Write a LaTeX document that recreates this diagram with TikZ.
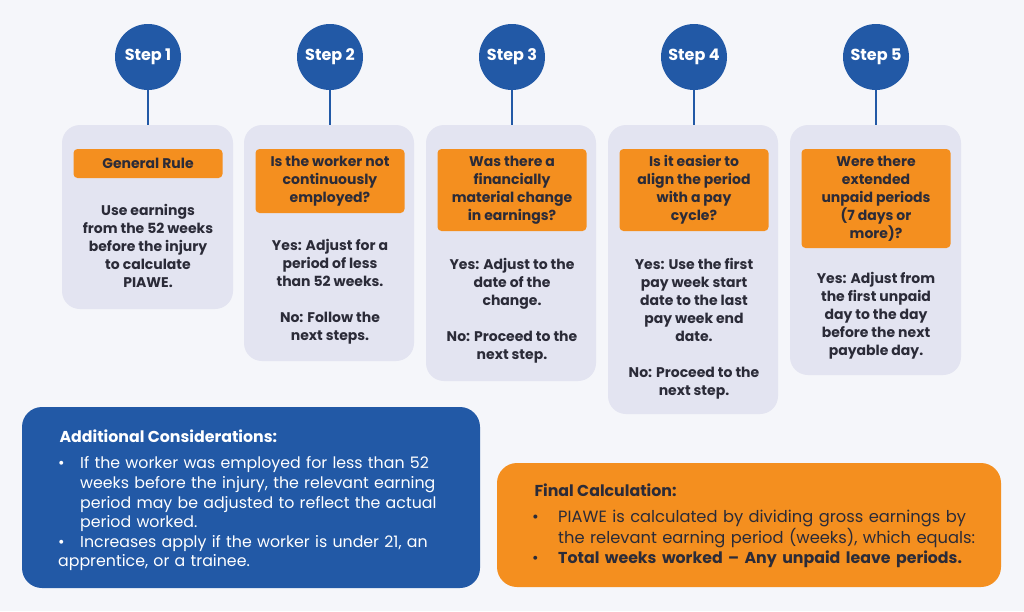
\documentclass[tikz,border=0pt]{standalone}
\usepackage{fontspec}
\setmainfont{Poppins}
\definecolor{bg}{HTML}{F5F6FA}
\definecolor{card}{HTML}{E3E4F1}
\definecolor{org}{HTML}{F48F1F}
\definecolor{blu}{HTML}{2259A6}
\definecolor{txt}{HTML}{2B2B38}
\newcommand{\bitem}[2]{\par\hangindent=#1\hangafter=1\noindent\makebox[#1][l]{•}#2}
\begin{document}
\begin{tikzpicture}[x=1pt,y=-1pt,
  stepc/.style={circle,fill=blu,minimum size=66pt,text=white,font=\fontsize{16}{18}\selectfont\bfseries},
  cardbox/.style={fill=card,rounded corners=18pt},
  hdr/.style={fill=org,rounded corners=4pt,text=txt,align=center,font=\fontsize{14}{18}\selectfont\bfseries,inner sep=0pt},
  body/.style={text=txt,align=center,font=\fontsize{14}{18}\selectfont\bfseries,anchor=north},
  conn/.style={draw=blu,line width=1.3pt}]
\fill[bg] (0,0) rectangle (1024,611);
\useasboundingbox (0,0) rectangle (1024,611);
% cards
\fill[cardbox] (62,125) rectangle (233,309);
\fill[cardbox] (244,125) rectangle (414,361);
\fill[cardbox] (426,125) rectangle (596,381);
\fill[cardbox] (608,125) rectangle (778,414);
\fill[cardbox] (790,125) rectangle (961,375);
\coordinate (t1) at (148,125);
\coordinate (t2) at (330,125);
\coordinate (t3) at (512,125);
\coordinate (t4) at (694,125);
\coordinate (t5) at (876,125);
\foreach \i/\x in {1/148,2/330,3/512,4/694,5/876}{
  \node[stepc] (s\i) at (\x,57) {Step \i};
  \draw[conn] (s\i.south) -- (t\i);
}
% headers
\node[hdr,minimum width=149pt,minimum height=29pt] (h1) at (148,163.5) {General Rule};
\node[hdr,minimum width=149pt,minimum height=64pt] (h2) at (330,181) {Is the worker not\\continuously\\employed?};
\node[hdr,minimum width=149pt,minimum height=82pt] (h3) at (512,190) {Was there a\\financially\\material change\\in earnings?};
\node[hdr,minimum width=149pt,minimum height=82pt] (h4) at (694,190) {Is it easier to\\align the period\\with a pay\\cycle?};
\node[hdr,minimum width=149pt,minimum height=99pt] (h5) at (876,198.5) {Were there\\extended\\unpaid periods\\(7 days or\\more)?};
% bodies
\node[body] (b1) at (148,201) {Use earnings\\from the 52 weeks\\before the injury\\to calculate\\PIAWE.};
\node[body] (b2) at (330,236) {Yes: Adjust for a\\period of less\\than 52 weeks.\\[18pt]No: Follow the\\next steps.};
\node[body] (b3) at (512,255) {Yes: Adjust to the\\date of the\\change.\\[18pt]No: Proceed to the\\next step.};
\node[body] (b4) at (694,255) {Yes: Use the first\\pay week start\\date to the last\\pay week end\\date.\\[18pt]No: Proceed to the\\next step.};
\node[body] (b5) at (876,269) {Yes: Adjust from\\the first unpaid\\day to the day\\before the next\\payable day.};
% additional
\fill[blu,rounded corners=20pt] (22,407) rectangle (480,588);
\node[text=white,anchor=west,font=\fontsize{15.8}{18}\selectfont\bfseries] (at) at (56,436) {Additional Considerations:};
\node[text=white,anchor=north west,inner sep=0pt,text width=420pt,font=\fontsize{15.8}{19.6}\selectfont] (al) at (58,449)
 {\bitem{22pt}{If the worker was employed for less than 52\newline weeks before the injury, the relevant earning\newline period may be adjusted to reflect the actual\newline period worked.}\bitem{22pt}{Increases apply if the worker is under 21, an\newline apprentice, or a trainee.}};
% final
\fill[org,rounded corners=20pt] (497,463) rectangle (1001,587);
\node[text=txt,anchor=west,font=\fontsize{15.8}{18}\selectfont\bfseries] (ft) at (531,490) {Final Calculation:};
\node[text=txt,anchor=north west,inner sep=0pt,text width=460pt,font=\fontsize{16.3}{19.6}\selectfont] (fl) at (532,503)
 {\bitem{26pt}{PIAWE is calculated by dividing gross earnings by\newline the relevant earning period (weeks), which equals:}\par\fontsize{15.8}{19.6}\selectfont\bitem{26pt}{\bfseries Total weeks worked – Any unpaid leave periods.}};
\end{tikzpicture}
\end{document}
